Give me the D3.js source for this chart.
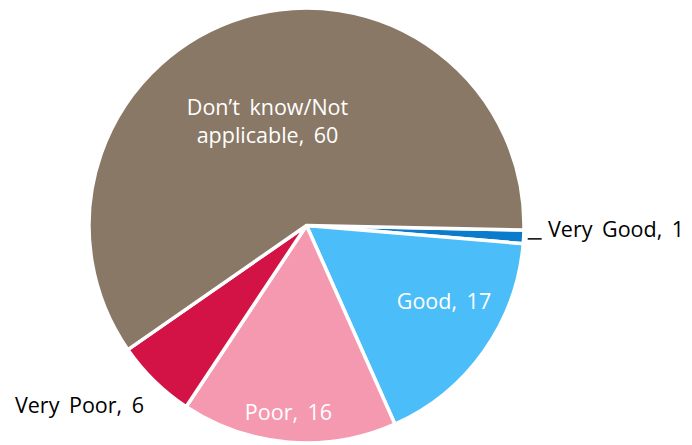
<!DOCTYPE html>
<html>
<head>
<meta charset="utf-8">
<script src="https://cdn.jsdelivr.net/npm/d3@7/dist/d3.min.js"></script>
<style>
  html, body { margin: 0; padding: 0; background: #fff; }
  svg { display: block; }
  text { font-family: "Open Sans", "Noto Sans", sans-serif; font-size: 21.5px; word-spacing: 4px; }
</style>
</head>
<body>
<svg id="chart" width="692" height="445"></svg>
<script>
// Survey responses (share of respondents, %)
const categories = ["Very Good", "Good", "Poor", "Very Poor", "Don\u2019t know/Not applicable"];
const values = [1, 17, 16, 6, 60];
const colors = ["#0a7ccb", "#4bbdf8", "#f599b1", "#d31245", "#8a7866"];
const labelLines = [["Very Good, 1"], ["Good, 17"], ["Poor, 16"], ["Very Poor, 6"], ["Don\u2019t know/Not", "applicable, 60"]];

// Label placement relative to the pie centre (x, baseline y of first line), fill, anchor
const labelLayout = [
  { dx: 241.5, dy: 11.5, fill: "#000", anchor: "start" },
  { dx: 137.5, dy: 83.5, fill: "#fff", anchor: "middle" },
  { dx: -18, dy: 194.5, fill: "#fff", anchor: "middle" },
  { dx: -227, dy: 187.5, fill: "#000", anchor: "middle" },
  { dx: -39, dy: -110.5, fill: "#fff", anchor: "middle" }
];

const svg = d3.select("#chart");
const cx = 306.5, cy = 225.5, radius = 217.5;
const startDeg = 91.2;

const pie = d3.pie()
  .value(d => d)
  .sort(null)
  .startAngle(startDeg * Math.PI / 180)
  .endAngle((startDeg + 360) * Math.PI / 180);

const arc = d3.arc().innerRadius(0).outerRadius(radius);
const arcs = pie(values);

const g = svg.append("g").attr("transform", `translate(${cx},${cy})`);

g.selectAll("path.slice")
  .data(arcs)
  .join("path")
  .attr("class", "slice")
  .attr("d", arc)
  .attr("fill", (d, i) => colors[i])
  .attr("stroke", "#fff")
  .attr("stroke-width", 3.5)
  .attr("stroke-linejoin", "round");

// Leader for the small "Very Good" slice
const vg = arcs[0];
const vgMid = (vg.startAngle + vg.endAngle) / 2;
const lx0 = Math.sin(vgMid) * (radius + 4);
const ly0 = -Math.cos(vgMid) * radius + 2;
g.append("line")
  .attr("x1", lx0).attr("y1", ly0)
  .attr("x2", lx0 + 14).attr("y2", ly0)
  .attr("stroke", "#000")
  .attr("stroke-width", 1.5);

const labels = g.selectAll("text.label")
  .data(labelLines)
  .join("text")
  .attr("class", "label")
  .attr("x", (d, i) => labelLayout[i].dx)
  .attr("y", (d, i) => labelLayout[i].dy)
  .attr("fill", (d, i) => labelLayout[i].fill)
  .attr("text-anchor", (d, i) => labelLayout[i].anchor);

labels.selectAll("tspan")
  .data((d, i) => d.map(t => ({ t, i })))
  .join("tspan")
  .attr("x", d => labelLayout[d.i].dx)
  .attr("dy", (d, j) => j === 0 ? 0 : 28)
  .text(d => d.t);
</script>
</body>
</html>
